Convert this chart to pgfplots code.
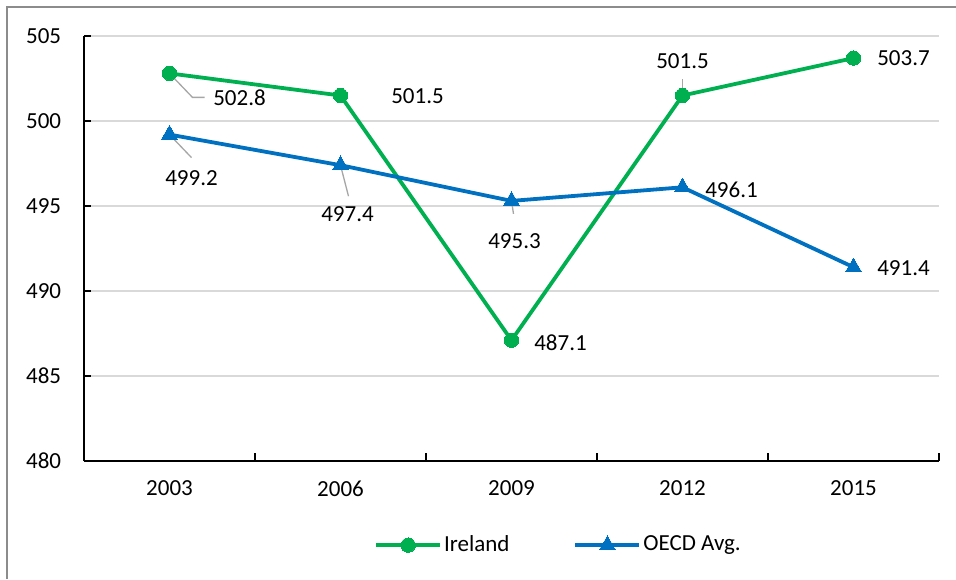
\documentclass[border=0pt]{standalone}
\usepackage{pgfplots}
\pgfplotsset{compat=1.18}
\usepackage{fontspec}
\setmainfont{Carlito}
\definecolor{irl}{HTML}{00B050}
\definecolor{oecd}{HTML}{0070C0}
\definecolor{gridc}{HTML}{D9D9D9}
\definecolor{leader}{HTML}{A6A6A6}
\definecolor{frame}{HTML}{8C8C8C}
\begin{document}%
\fontsize{23}{28}\selectfont%
\begin{tikzpicture}[font=\fontsize{23}{28}\selectfont]
\useasboundingbox (0,0) rectangle (956pt,579pt);
\draw[frame, line width=1.3pt] (7pt,0pt) -- (7pt,572pt) -- (956pt,572pt);
\begin{axis}[
  at={(84pt,118pt)}, anchor=south west,
  scale only axis, width=855pt, height=425pt,
  xmin=-0.5, xmax=4.5, ymin=480, ymax=505,
  axis lines*=left,
  axis line style={black, line width=1.3pt},
  xtick={0,1,2,3,4},
  xticklabels={2003,2006,2009,2012,2015},
  minor xtick={0.5,1.5,2.5,3.5,4.5},
  major x tick style={draw=none},
  minor x tick style={black, line width=1.3pt},
  minor tick length=8pt,
  ytick={480,485,490,495,500,505},
  ytick style={black, line width=1.3pt},
  major tick length=7pt,
  tick align=inside,
  ymajorgrids,
  major grid style={gridc, line width=1.4pt},
  /pgf/number format/assume math mode=true,
  /pgf/number format/.cd, fixed, precision=0, 1000 sep={},
  /pgfplots/.cd,
  yticklabel style={xshift=-15pt},
  xticklabel style={yshift=-12pt},
  clip=false,
  legend columns=2,
  legend style={draw=none, fill=none, at={(0.555,-0.198)}, anchor=center,
    /tikz/every even column/.append style={column sep=62pt},
    nodes={inner sep=2pt}},
  legend image code/.code={\draw[mark repeat=2,mark phase=2,#1] plot coordinates {(0pt,0pt) (32pt,0pt) (64pt,0pt)};},
]
\addplot[irl, line width=3.8pt, mark=*, mark size=7.2pt, mark options={solid, line width=0pt}] coordinates {
(0,502.8) (1,501.5) (2,487.1) (3,501.5) (4,503.7)};
\addlegendentry{Ireland}
\addplot[oecd, line width=3.8pt, mark=triangle*, mark size=9.2pt, mark options={solid, line width=0pt}] coordinates {
(0,499.2) (1,497.4) (2,495.3) (3,496.1) (4,491.4)};
\addlegendentry{OECD Avg.}
% leader lines
\draw[leader, line width=1.3pt] (axis cs:0,502.8) -- ++(23pt,-24pt) -- ++(12pt,0pt);
\draw[leader, line width=1.3pt] (axis cs:3,501.5) ++(0pt,1pt) -- ++(0pt,15pt);
\draw[leader, line width=1.3pt] (axis cs:0,499.2) -- ++(22pt,-23pt);
\draw[leader, line width=1.3pt] (axis cs:1,497.4) -- ++(8pt,-31pt);
\draw[leader, line width=1.3pt] (axis cs:2,495.3) -- ++(2pt,-13pt);
% data labels
\node at (axis cs:0,502.8) [xshift=70pt,yshift=-24pt] {502.8};
\node at (axis cs:1,501.5) [xshift=77pt,yshift=-1pt] {501.5};
\node at (axis cs:2,487.1) [xshift=49pt,yshift=-2pt] {487.1};
\node at (axis cs:3,501.5) [yshift=34pt] {501.5};
\node at (axis cs:4,503.7) [xshift=50pt] {503.7};
\node at (axis cs:0,499.2) [xshift=22pt,yshift=-44pt] {499.2};
\node at (axis cs:1,497.4) [xshift=7pt,yshift=-49pt] {497.4};
\node at (axis cs:2,495.3) [xshift=3pt,yshift=-40pt] {495.3};
\node at (axis cs:3,496.1) [xshift=49pt,yshift=-3pt] {496.1};
\node at (axis cs:4,491.4) [xshift=50pt,yshift=-1pt] {491.4};
\end{axis}
\end{tikzpicture}%
\end{document}
